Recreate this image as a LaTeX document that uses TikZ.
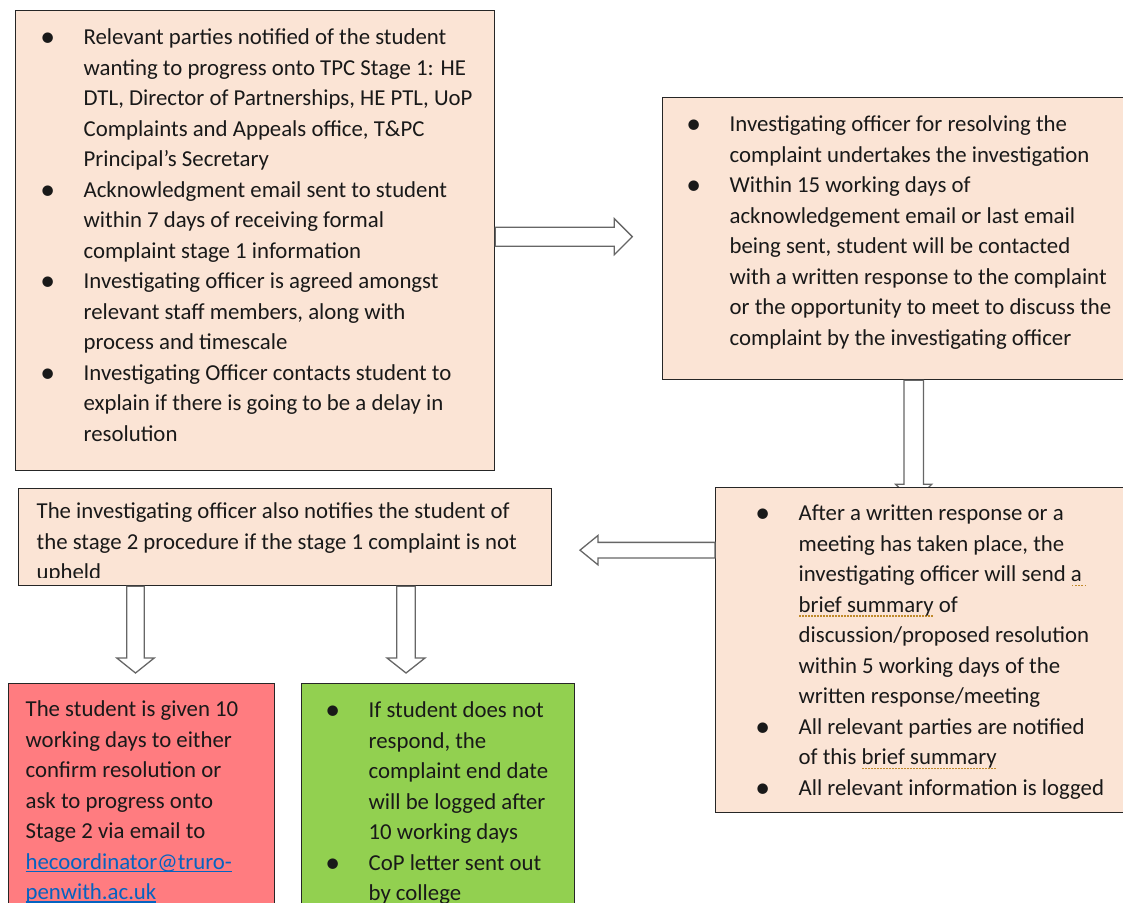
\documentclass[tikz,border=0pt]{standalone}
\usepackage{fontspec}
\setmainfont{Carlito}
\usetikzlibrary{calc}

\definecolor{peach}{HTML}{FBE4D5}
\definecolor{rose}{HTML}{FF7C80}
\definecolor{leafgreen}{HTML}{92D050}
\definecolor{linkblue}{HTML}{0563C1}
\definecolor{grammarline}{HTML}{C08A2A}

\hfuzz=200pt \hbadness=10000

\tikzset{
  flowbox/.style={draw=black!85, line width=1.3pt, inner sep=0pt, anchor=north west,
    font=\fontsize{22.8pt}{30.5pt}\selectfont, text=black!90},
  arrowline/.style={draw=black!60, line width=1.3pt, fill=white, line join=miter}
}

% text block of a box: width, height, left indent, top space, lines
\newcommand\boxtext[5]{\parbox[c][#2][t]{#1}{\leftskip=#3\rightskip=0pt plus 1fil
  \parindent=0pt\parskip=0pt\vspace*{#4}#5}}
\newcommand\bulletmark{\raisebox{-2pt}{\scalebox{1.3}{\textbullet}}}
\newcommand\itm{\par\leavevmode\rule{0pt}{22pt}\llap{\makebox[0pt]{\bulletmark}\hspace{36pt}}}
\newcommand\tln{\par\leavevmode\rule{0pt}{22pt}}
\newlength\grammarwd
\newcommand\grammarmark[1]{\settowidth\grammarwd{#1}\leavevmode\rlap{\raisebox{-4.5pt}[0pt][0pt]{%
  \textcolor{grammarline}{\hbox to\grammarwd{\xleaders\hbox{\kern0.7pt\rule{1.6pt}{1.6pt}\kern0.7pt}\hfil}}}}#1}
\newlength\mailwd
\newcommand\maillink[1]{\settowidth\mailwd{#1}\leavevmode\rlap{\raisebox{-3pt}[0pt][0pt]{%
  \textcolor{linkblue}{\rule{\mailwd}{1.3pt}}}}\textcolor{linkblue}{#1}}
% block arrow: start, angle, length, shaft half width, head half width, head length
\newcommand\blkarrow[6]{\draw[arrowline, shift={(#1)}, rotate=#2]
  (0pt,#4) -- (#3-#6,#4) -- (#3-#6,#5) -- (#3,0pt) -- (#3-#6,-#5) -- (#3-#6,-#4) -- (0pt,-#4) -- cycle;}

\begin{document}
\begin{tikzpicture}[x=1pt, y=-1pt]
\useasboundingbox (0,0) rectangle (1123,902);
\clip (0,0) rectangle (1123,902);

\node[flowbox, fill=peach] (notify) at (15,10) {\boxtext{479pt}{460pt}{68pt}{12pt}{%
  \itm Relevant parties notified of the student\\ wanting to progress onto TPC Stage 1: HE\\
  DTL, Director of Partnerships, HE PTL, UoP\\ Complaints and Appeals office, T\&PC\\
  Principal’s Secretary
  \itm Acknowledgment email sent to student\\ within 7 days of receiving formal\\
  complaint stage 1 information
  \itm Investigating officer is agreed amongst\\ relevant staff members, along with\\
  process and timescale
  \itm Investigating Officer contacts student to\\ explain if there is going to be a delay in\\
  resolution}};

\node[flowbox, fill=peach] (investigate) at (662,97) {\boxtext{520pt}{282pt}{67pt}{12pt}{%
  \itm Investigating officer for resolving the\\ complaint undertakes the investigation
  \itm Within 15 working days of\\ acknowledgement email or last email\\
  being sent, student will be contacted\\ with a written response to the complaint\\
  or the opportunity to meet to discuss the\\ complaint by the investigating officer}};

\blkarrow{[xshift=251.7pt]investigate.south west}{-90}{122pt}{9.7pt}{18pt}{18pt}

\node[flowbox, fill=peach] (summary) at (715,487) {\boxtext{470pt}{325pt}{83pt}{11pt}{%
  \itm After a written response or a\\ meeting has taken place, the\\
  investigating officer will send \grammarmark{a\ }\\ \grammarmark{brief summary} of\\
  discussion/proposed resolution\\ within 5 working days of the\\ written response/meeting
  \itm All relevant parties are notified\\ of this \grammarmark{brief summary}
  \itm All relevant information is logged}};

\node[flowbox, fill=peach] (stagetwo) at (18,488) {\boxtext{533pt}{97pt}{18pt}{8pt}{%
  \tln The investigating officer also notifies the student of\\
  the stage 2 procedure if the stage 1 complaint is not\\ upheld}};
\fill[peach] ([xshift=2pt,yshift=2pt]stagetwo.south west) rectangle ([xshift=-2pt,yshift=8pt]stagetwo.south east);

\node[flowbox, fill=rose] (confirm) at (8,683) {\boxtext{266pt}{260pt}{17pt}{11pt}{%
  \tln The student is given 10\\ working days to either\\ confirm resolution or\\
  ask to progress onto\\ Stage 2 via email to\\ \maillink{hecoordinator@truro-}\\
  \maillink{penwith.ac.uk}}};

\node[flowbox, fill=leafgreen] (noreply) at (301,683) {\boxtext{273pt}{260pt}{67pt}{12pt}{%
  \itm If student does not\\ respond, the\\ complaint end date\\ will be logged after\\
  10 working days
  \itm CoP letter sent out\\ by college}};

\blkarrow{[yshift=4pt]notify.east}{0}{137pt}{9.5pt}{18pt}{18pt}
\blkarrow{[yshift=100pt]summary.west}{180}{135pt}{7.8pt}{14.7pt}{18pt}
\blkarrow{[xshift=117.5pt]stagetwo.south west}{-90}{86.7pt}{8.8pt}{18.7pt}{15pt}
\blkarrow{[xshift=388pt]stagetwo.south west}{-90}{86.7pt}{9.2pt}{19pt}{15pt}
\end{tikzpicture}
\end{document}
